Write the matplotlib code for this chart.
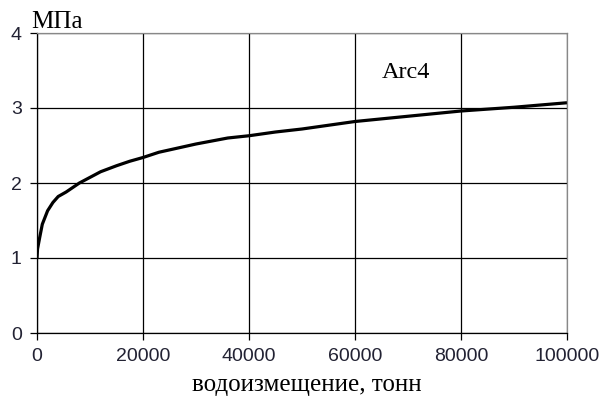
import numpy as np
import matplotlib.pyplot as plt

# displacement (tonnes) vs ice pressure (MPa)
disp = [0, 100, 500, 1000, 2000, 3000, 4000, 5500, 8000, 12000, 15000, 17500,
        20000, 23000, 30000, 36000, 40000, 45000, 50000, 60000, 70000, 80000,
        90000, 100000]
press = [1.0, 1.12, 1.27, 1.45, 1.63, 1.74, 1.82, 1.88, 2.0, 2.15, 2.23, 2.29,
         2.34, 2.41, 2.52, 2.6, 2.63, 2.68, 2.72, 2.82, 2.89, 2.96, 3.01, 3.07]

xticks = [0, 20000, 40000, 60000, 80000, 100000]
yticks = [0, 1, 2, 3, 4]

fig = plt.figure(figsize=(6.04, 3.98), dpi=100)
ax = fig.add_axes([37/604, 65/398, 530/604, 300/398])

ax.plot(disp, press, color='black', lw=2.3, solid_capstyle='butt')

ax.set_xlim(0, 100000)
ax.set_ylim(0, 4)
ax.set_xticks(xticks)
ax.set_yticks(yticks)
ax.set_xticklabels([str(v) for v in xticks])
ax.grid(True, color='black', lw=0.9)
ax.tick_params(direction='out', length=5, width=0.9, labelsize=14,
               colors='black', pad=6)
for lab in ax.get_xticklabels() + ax.get_yticklabels():
    lab.set_family('Liberation Sans')
    lab.set_color('#222233')

for s in ['left', 'bottom']:
    ax.spines[s].set_color('black')
    ax.spines[s].set_linewidth(0.9)
for s in ['top', 'right']:
    ax.spines[s].set_color('#888888')
    ax.spines[s].set_linewidth(0.9)

ax.text(-0.01, 1.0, 'МПа', transform=ax.transAxes, ha='left', va='bottom',
        family='Liberation Serif', fontsize=18)
ax.text(69600, 3.47, 'Arc4', ha='center', va='center',
        family='Liberation Serif', fontsize=17.5)
ax.text(0.51, -0.193, 'водоизмещение, тонн', transform=ax.transAxes,
        ha='center', va='baseline', family='Liberation Serif', fontsize=18)

fig.savefig('out.png', dpi=100)
